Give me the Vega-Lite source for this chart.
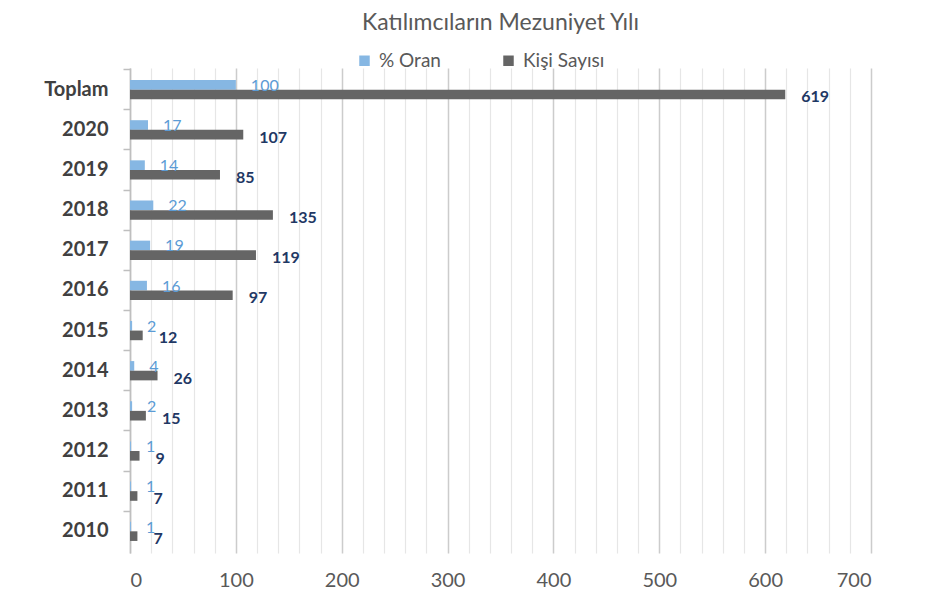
{
  "$schema": "https://vega.github.io/schema/vega-lite/v6.json",
  "width": 741,
  "height": 485,
  "autosize": "none",
  "padding": {"left": 130, "top": 68, "right": 54, "bottom": 50},
  "background": "white",
  "config": {
    "font": "Lato",
    "view": {"stroke": null}
  },
  "title": {
    "text": "Katılımcıların Mezuniyet Yılı",
    "fontSize": 23,
    "fontWeight": "normal",
    "color": "#595959",
    "anchor": "middle",
    "offset": 16
  },
  "data": {
    "values": [
      {"cat": "Toplam", "series": "% Oran", "value": 100},
      {"cat": "Toplam", "series": "Kişi Sayısı", "value": 619},
      {"cat": "2020", "series": "% Oran", "value": 17},
      {"cat": "2020", "series": "Kişi Sayısı", "value": 107},
      {"cat": "2019", "series": "% Oran", "value": 14},
      {"cat": "2019", "series": "Kişi Sayısı", "value": 85},
      {"cat": "2018", "series": "% Oran", "value": 22},
      {"cat": "2018", "series": "Kişi Sayısı", "value": 135},
      {"cat": "2017", "series": "% Oran", "value": 19},
      {"cat": "2017", "series": "Kişi Sayısı", "value": 119},
      {"cat": "2016", "series": "% Oran", "value": 16},
      {"cat": "2016", "series": "Kişi Sayısı", "value": 97},
      {"cat": "2015", "series": "% Oran", "value": 2},
      {"cat": "2015", "series": "Kişi Sayısı", "value": 12},
      {"cat": "2014", "series": "% Oran", "value": 4},
      {"cat": "2014", "series": "Kişi Sayısı", "value": 26},
      {"cat": "2013", "series": "% Oran", "value": 2},
      {"cat": "2013", "series": "Kişi Sayısı", "value": 15},
      {"cat": "2012", "series": "% Oran", "value": 1},
      {"cat": "2012", "series": "Kişi Sayısı", "value": 9},
      {"cat": "2011", "series": "% Oran", "value": 1},
      {"cat": "2011", "series": "Kişi Sayısı", "value": 7},
      {"cat": "2010", "series": "% Oran", "value": 1},
      {"cat": "2010", "series": "Kişi Sayısı", "value": 7}
    ]
  },
  "encoding": {
    "y": {
      "field": "cat",
      "type": "nominal",
      "sort": null,
      "scale": {"paddingInner": 0.52, "paddingOuter": 0.3},
      "title": null,
      "axis": {
        "labelFontSize": 20,
        "labelFontWeight": "bold",
        "labelColor": "#404040",
        "labelPadding": 15,
        "domainColor": "#bfbfbf",
        "domainWidth": 1.5,
        "tickColor": "#bfbfbf",
        "tickSize": 7,
        "tickWidth": 1.5,
        "bandPosition": -0.54,
        "grid": false
      }
    },
    "yOffset": {
      "field": "series",
      "type": "nominal",
      "sort": ["% Oran", "Kişi Sayısı"],
      "scale": {"paddingInner": 0, "paddingOuter": 0}
    }
  },
  "layer": [
    {
      "mark": {"type": "bar"},
      "encoding": {
        "x": {
          "field": "value",
          "type": "quantitative",
          "scale": {"domain": [0, 700], "nice": false, "zero": true},
          "title": null,
          "axis": {
            "orient": "top",
            "values": [20, 40, 60, 80, 120, 140, 160, 180, 220, 240, 260, 280, 320, 340, 360, 380, 420, 440, 460, 480, 520, 540, 560, 580, 620, 640, 660, 680],
            "labels": false,
            "ticks": false,
            "domain": false,
            "grid": true,
            "gridColor": "#e6e6e6",
            "gridWidth": 1.2
          }
        },
        "color": {
          "field": "series",
          "type": "nominal",
          "scale": {"domain": ["% Oran", "Kişi Sayısı"], "range": ["#86b7e3", "#656565"]},
          "legend": {
            "orient": "none",
            "legendX": 225,
            "legendY": -17,
            "direction": "horizontal",
            "title": null,
            "symbolType": "square",
            "symbolSize": 110,
            "symbolStrokeWidth": 0,
            "labelFontSize": 19,
            "labelColor": "#595959",
            "labelOffset": 5,
            "columnPadding": 58
          }
        }
      }
    },
    {
      "transform": [{"filter": "datum.series === '% Oran'"}],
      "mark": {"type": "text", "align": "left", "baseline": "middle", "dx": 15, "dy": 1, "fontSize": 16, "color": "#5b9bd5"},
      "encoding": {
        "x": {
          "field": "value",
          "type": "quantitative",
          "scale": {"domain": [0, 700], "nice": false, "zero": true},
          "title": null,
          "axis": {
            "orient": "bottom",
            "values": [0, 100, 200, 300, 400, 500, 600, 700],
            "labelFontSize": 20,
            "labelColor": "#595959",
            "labelPadding": 17,
            "ticks": false,
            "domain": false,
            "grid": true,
            "gridColor": "#cccccc",
            "gridWidth": 1.5
          }
        },
        "text": {"field": "value", "type": "quantitative"}
      }
    },
    {
      "transform": [{"filter": "datum.series === 'Kişi Sayısı'"}],
      "mark": {"type": "text", "align": "left", "baseline": "middle", "dx": 16, "dy": 3, "fontSize": 16, "fontWeight": "bold", "color": "#1f3864"},
      "encoding": {
        "x": {"field": "value", "type": "quantitative", "scale": {"domain": [0, 700], "nice": false, "zero": true}, "axis": null},
        "text": {"field": "value", "type": "quantitative"}
      }
    }
  ],
  "resolve": {"axis": {"x": "independent"}}
}
